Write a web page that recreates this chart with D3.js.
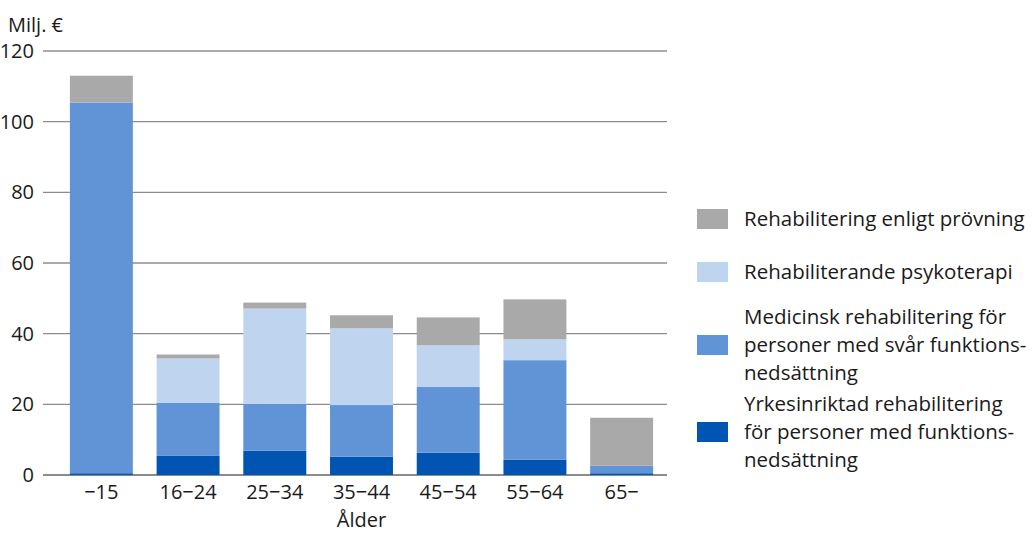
<!DOCTYPE html>
<html>
<head>
<meta charset="utf-8">
<script src="https://cdn.jsdelivr.net/npm/d3@7"></script>
<style>
    body { margin: 0; background: #fff; }
    text { font-family: "Open Sans", "Noto Sans", sans-serif; fill: #1a1a1a; }
</style>
</head>
<body>
<div class="chart"></div>
<script>
const ageGroups = ['\u221215', '16\u221224', '25\u221234', '35\u221244', '45\u221254', '55\u221264', '65\u2212'];
const yrkesinriktad = [0.5, 5.4, 6.9, 5.2, 6.3, 4.3, 0.5];
const medicinsk = [104.9, 15.0, 13.2, 14.6, 18.6, 28.2, 2.1];
const psykoterapi = [0, 12.6, 27.0, 21.7, 11.8, 5.9, 0];
const provning = [7.6, 1.1, 1.7, 3.7, 7.9, 11.3, 13.6];
const yTicks = [0, 20, 40, 60, 80, 100, 120];

// legend entries, top to bottom, already wrapped as in the original
const legendLines = [
    ['Rehabilitering enligt prövning'],
    ['Rehabiliterande psykoterapi'],
    ['Medicinsk rehabilitering för', 'personer med svår funktions-', 'nedsättning'],
    ['Yrkesinriktad rehabilitering', 'för personer med funktions-', 'nedsättning']
];

const colors = ['#0055b3', '#6194d6', '#bfd5ef', '#a9a9a9'];

const fullWidth = 1035;
const fullHeight = 533;
const fontSize = '20px';

const svg = d3.select('.chart')
    .append('svg')
        .attr('width', fullWidth)
        .attr('height', fullHeight);

const data = ageGroups.map((age, i) => ({
    age: age,
    s0: yrkesinriktad[i],
    s1: medicinsk[i],
    s2: psykoterapi[i],
    s3: provning[i]
}));

const stacked = d3.stack().keys(['s0', 's1', 's2', 's3'])(data);

const yScale = d3.scaleLinear()
    .domain([0, 120])
    .range([475, 51]);

const xScale = d3.scaleBand()
    .domain(ageGroups)
    .range([58, 665])
    .paddingInner(0.274)
    .paddingOuter(0.137);

// gridlines
svg.append('g')
    .selectAll('line')
    .data(yTicks)
    .enter()
    .append('line')
        .attr('x1', 43)
        .attr('x2', 667)
        .attr('y1', d => yScale(d))
        .attr('y2', d => yScale(d))
        .attr('stroke', d => d === 0 ? '#666' : '#8c8c8c')
        .attr('stroke-width', 1.3);

// y tick labels
svg.append('g')
    .selectAll('text')
    .data(yTicks)
    .enter()
    .append('text')
        .attr('x', 34)
        .attr('y', d => yScale(d) + 7)
        .attr('text-anchor', 'end')
        .style('font-size', fontSize)
        .text(d => d);

svg.append('text')
    .attr('x', 8)
    .attr('y', 32)
    .style('font-size', fontSize)
    .text('Milj. €');

// bars
svg.append('g')
    .selectAll('g')
    .data(stacked)
    .enter()
    .append('g')
        .attr('fill', (d, i) => colors[i])
    .selectAll('rect')
    .data(d => d)
    .enter()
    .append('rect')
        .attr('x', d => xScale(d.data.age))
        .attr('y', d => yScale(d[1]))
        .attr('width', xScale.bandwidth())
        .attr('height', d => yScale(d[0]) - yScale(d[1]));

// x labels
svg.append('g')
    .selectAll('text')
    .data(ageGroups)
    .enter()
    .append('text')
        .attr('x', d => xScale(d) + xScale.bandwidth() / 2)
        .attr('y', 499)
        .attr('text-anchor', 'middle')
        .style('font-size', fontSize)
        .text(d => d);

svg.append('text')
    .attr('x', xScale(ageGroups[3]) + xScale.bandwidth() / 2)
    .attr('y', 527)
    .attr('text-anchor', 'middle')
    .style('font-size', fontSize)
    .text('Ålder');

// legend
const legendTop = [219, 272, 345, 432];
const legend = svg.append('g')
    .selectAll('g')
    .data(legendLines)
    .enter()
    .append('g')
        .attr('transform', (d, i) => `translate(697, ${legendTop[i]})`);

legend.append('rect')
    .attr('x', 0)
    .attr('y', -10)
    .attr('width', 31)
    .attr('height', 20)
    .attr('fill', (d, i) => colors[3 - i]);

legend.each(function(lines) {
    const g = d3.select(this);
    const n = lines.length;
    lines.forEach((line, j) => {
        g.append('text')
            .attr('x', 47)
            .attr('y', (j - (n - 1) / 2) * 28 + 7)
            .style('font-size', '20.5px')
            .text(line);
    });
});
</script>
</body>
</html>
